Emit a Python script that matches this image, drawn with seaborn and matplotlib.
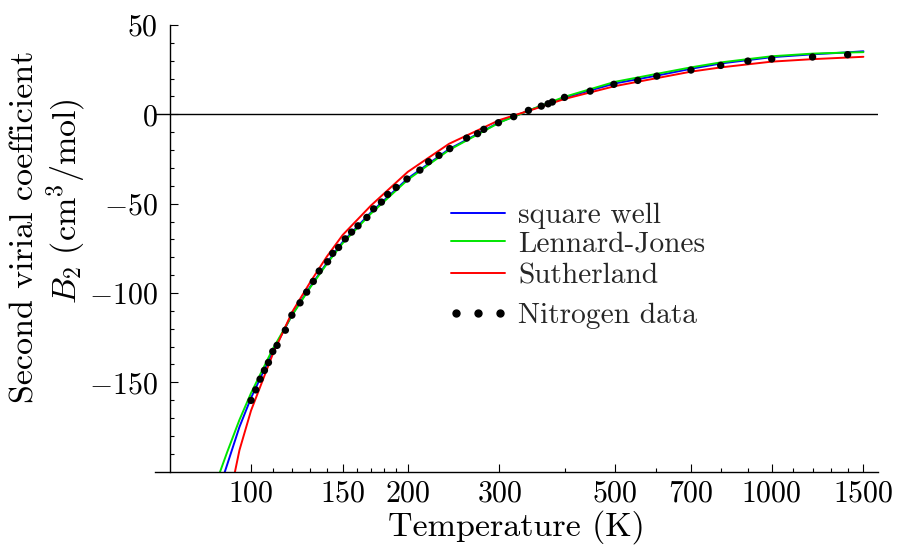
import numpy as np
import pandas as pd
import matplotlib
matplotlib.use("Agg")
import matplotlib.pyplot as plt
import seaborn as sns
from matplotlib.ticker import FixedLocator, FixedFormatter, NullFormatter
from matplotlib.lines import Line2D
from matplotlib.legend_handler import HandlerLine2D

# ---- data ----
curve_T = [85, 90, 95, 100, 110, 120, 130, 140, 150, 170, 200, 240, 300, 350,
           400, 500, 600, 700, 800, 1000, 1200, 1400, 1500]
square_well = [-218, -196, -175, -158.7, -133, -112, -96.3, -82.9, -71.4, -54.8,
               -35.9, -19.5, -4.4, 3.3, 9.3, 17.3, 21.6, 25.5, 28.5, 32.0, 33.6,
               34.7, 35.3]
lennard_jones = [-209, -189, -171, -156, -131.5, -112.3, -96.8, -83.5, -72.1, -55.5,
                 -36.6, -20.0, -4.6, 3.4, 9.8, 18.2, 22.6, 26.3, 29.1, 32.5, 34.0,
                 34.6, 34.8]
sutherland = [-250, -221, -188, -165.8, -134.5, -110.5, -93.8, -79.4, -67.5, -51.0,
              -32.2, -16.5, -3.2, 3.0, 8.6, 15.8, 20.2, 23.9, 26.3, 29.5, 30.9,
              31.8, 32.2]

data_T = [100.0, 102.1, 104.1, 106.1, 108.0, 110.1, 112.2, 116.4, 119.8, 124.2,
          127.9, 131.7, 135.2, 140.3, 143.5, 147.3, 151.7, 156.0, 160.5, 166.9,
          172.0, 178.0, 183.0, 190.0, 199.3, 211.0, 219.3, 229.6, 240.8, 259.5,
          272.3, 280.0, 298.6, 319.5, 341.0, 361.0, 372.0, 379.0, 400.0, 448.0,
          497.6, 553.0, 601.6, 699.7, 798.0, 900.0, 1000.0, 1198.0, 1399.0]
data_B = [-160.1, -154.2, -148.2, -143.3, -138.9, -132.7, -129.3, -120.8, -112.4,
          -105.5, -99.5, -93.5, -87.7, -82.5, -77.8, -74.5, -69.7, -65.9, -62.4,
          -57.7, -52.9, -49.1, -44.8, -40.9, -36.2, -31.2, -26.5, -23.0, -19.2,
          -13.3, -10.8, -8.4, -4.7, -1.3, 2.2, 4.6, 5.9, 6.9, 9.5, 13.0, 16.8,
          19.0, 21.4, 24.8, 27.4, 29.8, 31.0, 32.1, 33.4]

x_major = [100, 150, 200, 300, 500, 700, 1000, 1500]
x_major_labels = ["100", "150", "200", "300", "500", "700", "1000", "1500"]
x_minor = [110, 120, 130, 140, 160, 170, 180, 190, 400, 600, 800, 900,
           1100, 1200, 1300, 1400]
y_major = [-150, -100, -50, 0, 50]
y_major_labels = ["-150", "-100", "-50", "0", "50"]

series_names = ["square well", "Lennard-Jones", "Sutherland"]
series_colors = ["#0000ff", "#00e600", "#ff0000"]
data_name = "Nitrogen data"

# ---- style ----
sns.set_theme(style="ticks")
plt.rcParams.update({
    "font.family": ["cmr10", "DejaVu Serif"],
    "mathtext.fontset": "cm",
    "axes.formatter.use_mathtext": True,
    "axes.unicode_minus": True,
})

fig = plt.figure(figsize=(8.97, 5.5), dpi=100)
ax = fig.add_axes([155 / 897, 1 - 471.7 / 550, (878 - 155) / 897, (471.7 - 25) / 550])

curves = pd.DataFrame({
    "T": curve_T * 3,
    "B": square_well + lennard_jones + sutherland,
    "model": sum([[n] * len(curve_T) for n in series_names], []),
})
pts = pd.DataFrame({"T": data_T, "B": data_B})

ax.axhline(0, color="black", lw=1.0, zorder=1)
sns.lineplot(data=curves, x="T", y="B", hue="model", hue_order=series_names,
             palette=series_colors, lw=1.4, ax=ax, legend=False, sort=False,
             zorder=2)
sns.scatterplot(data=pts, x="T", y="B", color="black", s=28, edgecolor="none",
                ax=ax, zorder=3, legend=False)

ax.set_xscale("log")
ax.set_xlim(65.4, 1600)
ax.set_ylim(-200, 50)

ax.spines["left"].set_position(("data", 70))
ax.spines["top"].set_visible(False)
ax.spines["right"].set_visible(False)
for s in ("left", "bottom"):
    ax.spines[s].set_linewidth(1.0)
    ax.spines[s].set_color("black")

ax.xaxis.set_major_locator(FixedLocator(x_major))
ax.xaxis.set_major_formatter(FixedFormatter(["$%s$" % l for l in x_major_labels]))
ax.xaxis.set_minor_locator(FixedLocator(x_minor))
ax.xaxis.set_minor_formatter(NullFormatter())
ax.yaxis.set_major_locator(FixedLocator(y_major))
ax.yaxis.set_major_formatter(FixedFormatter(["$%s$" % l for l in y_major_labels]))
ax.yaxis.set_minor_locator(FixedLocator([v for v in range(-190, 50, 10) if v % 50 != 0]))
ax.yaxis.set_minor_formatter(NullFormatter())

ax.tick_params(which="both", direction="in", color="black", width=0.8,
               labelsize=21.5, labelcolor="black")
ax.tick_params(which="major", length=6)
ax.tick_params(which="minor", length=3)
ax.tick_params(axis="x", which="major", pad=6)
ax.tick_params(axis="y", which="major", pad=9)

ax.set_xlabel("Temperature (K)", fontsize=24.5, color="black", labelpad=2)
ax.set_ylabel("")
fig.text(25 / 897, 1 - 227 / 550, "Second virial coefficient", rotation=90,
         ha="center", va="center", fontsize=24.5, color="black")
fig.text(66 / 897, 1 - 201 / 550, r"$B_2\ (\mathrm{cm}^3/\mathrm{mol})$", rotation=90,
         ha="center", va="center", fontsize=24.5, color="black")

# legend entries, one per row, placed at the reference row positions
row_y = [216, 244, 276]
for name, col, yy in zip(series_names, series_colors, row_y):
    lg = ax.legend([Line2D([], [], color=col, lw=1.4)], [name], loc="center left",
                   bbox_to_anchor=(451 / 897, 1 - yy / 550), bbox_transform=fig.transFigure,
                   frameon=False, fontsize=21.2, handlelength=1.85, handletextpad=0.43,
                   borderpad=0, borderaxespad=0)
    ax.add_artist(lg)
dot_handle = Line2D([], [], color="black", marker="o", ls="none", markersize=5)
ax.legend([dot_handle], [data_name], loc="center left", numpoints=3,
          handler_map={dot_handle: HandlerLine2D(marker_pad=0.17, numpoints=3)},
          bbox_to_anchor=(451 / 897, 1 - 316 / 550), bbox_transform=fig.transFigure,
          frameon=False, fontsize=21.2, handlelength=1.85, handletextpad=0.43,
          borderpad=0, borderaxespad=0)

fig.savefig("out.png", dpi=100)
